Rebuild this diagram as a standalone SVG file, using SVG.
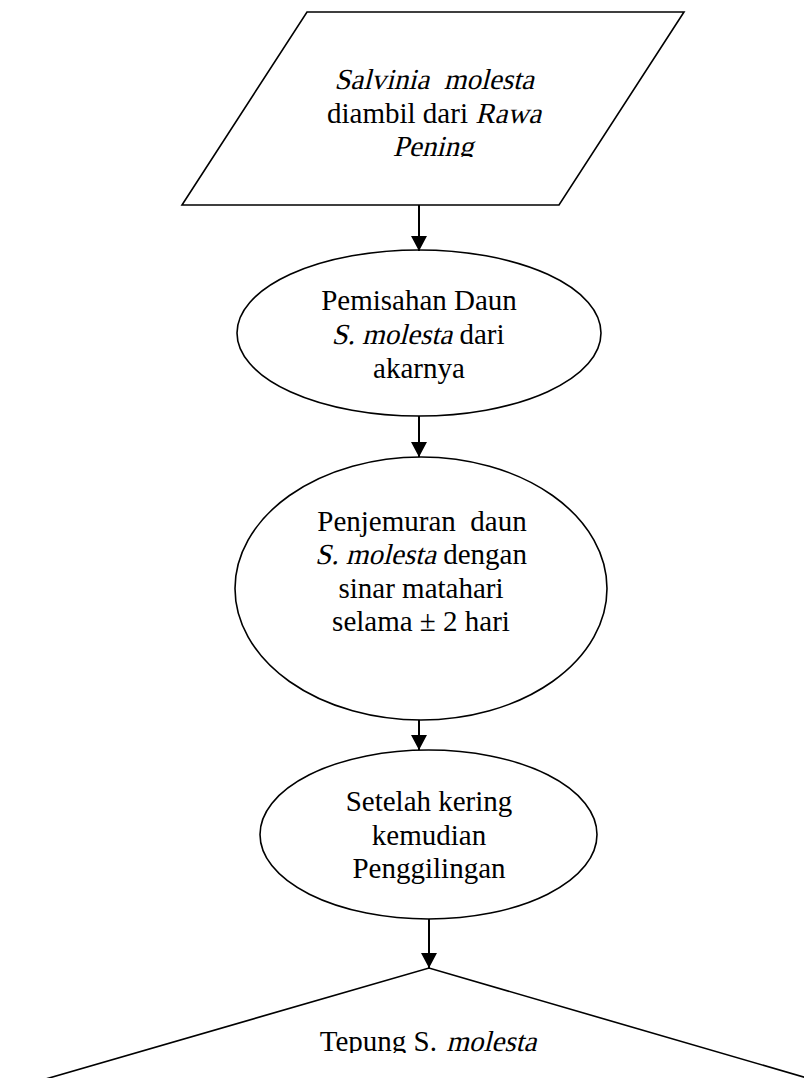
<svg xmlns="http://www.w3.org/2000/svg" width="804" height="1078" viewBox="0 0 804 1078">
<style>
  .shape { fill: #ffffff; stroke: #000000; stroke-width: 1.6; }
  .conn { stroke: #000000; stroke-width: 2; fill: none; }
  .t { font-family: "Liberation Serif", "Times New Roman", serif; font-size: 29px; fill: #000000; text-anchor: middle; }
  .s { text-anchor: start; }
</style>
<defs>
  <marker id="arrow" viewBox="0 0 15 16" refX="15" refY="8" markerWidth="15" markerHeight="16" markerUnits="userSpaceOnUse" orient="auto">
    <path d="M0,0 L15,8 L0,16 z" fill="#000000"/>
  </marker>
  <clipPath id="clipTop"><rect x="180" y="10" width="510" height="147"/></clipPath>
  <clipPath id="clipBottom"><rect x="0" y="968" width="804" height="85"/></clipPath>
</defs>
<rect x="0" y="0" width="804" height="1078" fill="#ffffff"/>

<g id="node-source">
  <polygon class="shape" points="307,12 684,12 559,205 182,205"/>
  <g clip-path="url(#clipTop)">
    <text class="t" transform="translate(434,89) skewX(-14)" xml:space="preserve">Salvinia  molesta</text>
    <text class="t s" x="327" y="123">diambil dari</text>
    <text class="t s" transform="translate(475.2,123) skewX(-14)">Rawa</text>
    <text class="t" transform="translate(433,156) skewX(-14)">Pening</text>
  </g>
</g>

<g id="node-separation">
  <ellipse class="shape" cx="419" cy="333" rx="182" ry="83"/>
  <text class="t" x="419" y="310">Pemisahan Daun</text>
  <text class="t s" transform="translate(331.4,344) skewX(-14)">S. molesta</text>
  <text class="t s" x="459.5" y="344">dari</text>
  <text class="t" x="419" y="378">akarnya</text>
</g>

<g id="node-drying">
  <ellipse class="shape" cx="421" cy="588.5" rx="186" ry="131.5"/>
  <text class="t" x="422" y="531" xml:space="preserve">Penjemuran  daun</text>
  <text class="t s" transform="translate(315.1,564) skewX(-14)">S. molesta</text>
  <text class="t s" x="443.2" y="564">dengan</text>
  <text class="t" x="421" y="598">sinar matahari</text>
  <text class="t" x="421" y="631">selama ± 2 hari</text>
</g>

<g id="node-grinding">
  <ellipse class="shape" cx="428.5" cy="834.5" rx="168.5" ry="84.5"/>
  <text class="t" x="429" y="811">Setelah kering</text>
  <text class="t" x="429" y="845">kemudian</text>
  <text class="t" x="429" y="878">Penggilingan</text>
</g>

<g id="node-flour">
  <path class="shape" d="M-20,1098 L429,968 L824,1083"/>
  <g clip-path="url(#clipBottom)">
    <text class="t s" x="319.7" y="1051">Tepung S.</text>
    <text class="t s" transform="translate(446.2,1051) skewX(-14)">molesta</text>
  </g>
</g>

<g id="connectors">
  <line class="conn" x1="419" y1="205" x2="419" y2="251" marker-end="url(#arrow)"/>
  <line class="conn" x1="419" y1="416" x2="419" y2="457" marker-end="url(#arrow)"/>
  <line class="conn" x1="419" y1="720" x2="419" y2="750" marker-end="url(#arrow)"/>
  <line class="conn" x1="429" y1="919" x2="429" y2="968" marker-end="url(#arrow)"/>
</g>
</svg>
